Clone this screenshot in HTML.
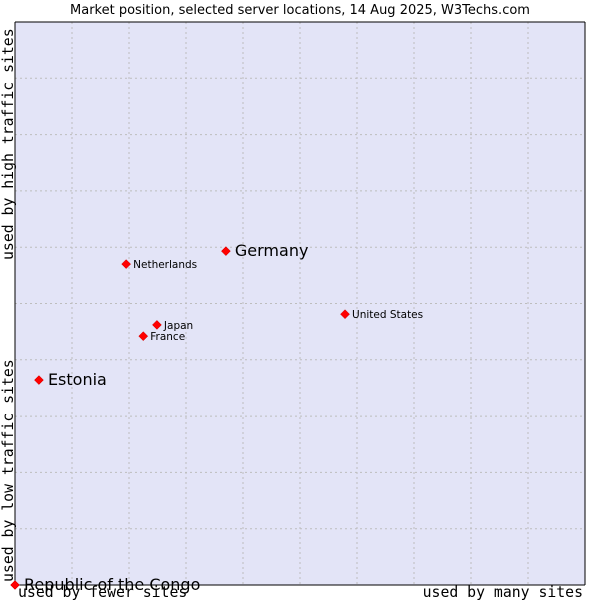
<!DOCTYPE html>
<html><head><meta charset="utf-8"><style>
body{margin:0;background:#fff}
svg{display:block}
</style></head><body>
<svg width="600" height="600" xmlns="http://www.w3.org/2000/svg">
<text x="300" y="14" text-anchor="middle" font-family="DejaVu Sans, sans-serif" font-size="13" fill="#000">Market position, selected server locations, 14 Aug 2025, W3Techs.com</text>
<rect x="15" y="22" width="570" height="563" fill="#e3e4f7"/>
<g id="grid"></g>
<line x1="15" y1="22" x2="15" y2="585" stroke="#000"/>
<line x1="15" y1="585" x2="585" y2="585" stroke="#000"/>
<line x1="15" y1="22" x2="585" y2="22" stroke="#000"/>
<line x1="585" y1="22" x2="585" y2="585" stroke="#000"/>
<g font-family="DejaVu Sans Mono, Liberation Mono, monospace" font-size="14.8" fill="#000">
<text x="18" y="597">used by fewer sites</text>
<text x="583" y="597" text-anchor="end">used by many sites</text>
<text transform="translate(13,582) rotate(-90)">used by low traffic sites</text>
<text transform="translate(13,260) rotate(-90)">used by high traffic sites</text>
</g>
<g id="points"></g>
</svg>
<script>
const countries = ["Republic of the Congo","Estonia","Netherlands","Germany","Japan","France","United States"];
const xValues = [0, 4.2, 19.5, 37.0, 24.9, 22.5, 57.9];
const yValues = [0, 36.4, 57.0, 59.3, 46.2, 44.2, 48.1];
const bigLabel = [true, true, false, true, false, false, false];
const gridTicks = [10,20,30,40,50,60,70,80,90];
const NS="http://www.w3.org/2000/svg";
const xs=v=>15+v*5.7, ys=v=>585-v*5.63;
const grid=document.getElementById('grid');
gridTicks.forEach(t=>{
  const v=document.createElementNS(NS,'line');
  v.setAttribute('x1',xs(t));v.setAttribute('x2',xs(t));v.setAttribute('y1',22);v.setAttribute('y2',585);
  v.setAttribute('stroke','#bdbdbd');v.setAttribute('stroke-dasharray','2,3');
  
  
  grid.appendChild(v);
  const h=document.createElementNS(NS,'line');
  h.setAttribute('y1',ys(t));h.setAttribute('y2',ys(t));h.setAttribute('x1',15);h.setAttribute('x2',585);
  h.setAttribute('stroke','#bdbdbd');h.setAttribute('stroke-dasharray','2,3');
  
  
  grid.appendChild(h);
});
const pts=document.getElementById('points');
countries.forEach((c,i)=>{
  const x=xs(xValues[i]), y=ys(yValues[i]);
  const d=document.createElementNS(NS,'path');
  d.setAttribute('d',`M${x} ${y-4.5}L${x+4.5} ${y}L${x} ${y+4.5}L${x-4.5} ${y}Z`);
  d.setAttribute('fill','#f00');d.setAttribute('stroke','#c00');d.setAttribute('stroke-width','0.5');
  
  
  pts.appendChild(d);
  const t=document.createElementNS(NS,'text');
  t.setAttribute('x',x+(bigLabel[i]?9:7));t.setAttribute('y',y+(bigLabel[i]?5:4));
  t.setAttribute('font-family','DejaVu Sans, sans-serif');
  t.setAttribute('font-size',bigLabel[i]?'16':'10.5');
  t.textContent=c;
  
  
  pts.appendChild(t);
});
</script>
</body></html>
